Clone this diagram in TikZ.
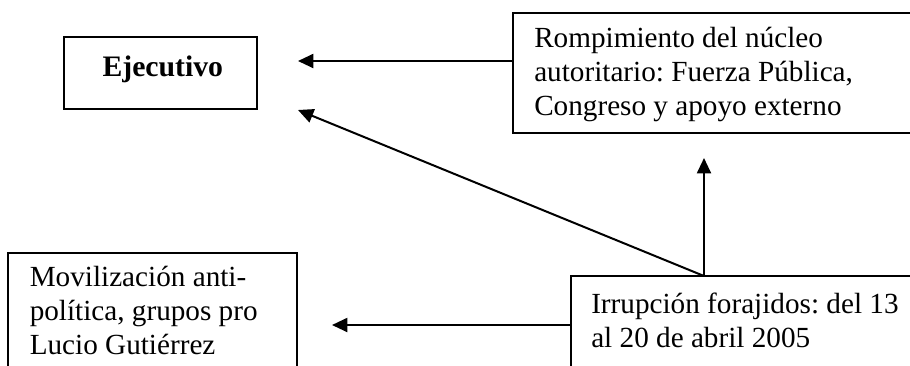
\documentclass[tikz,border=0pt]{standalone}
\usepackage{fontspec}
\setmainfont{Liberation Serif}
\newcommand\mybodyfont{\fontsize{21.9pt}{25.5pt}\selectfont\frenchspacing}
\usetikzlibrary{arrows.meta}
\begin{document}
\begin{tikzpicture}[x=0.75pt,y=-0.75pt,
  boxnode/.style={draw=black, line width=1.1pt, anchor=north west, inner sep=0pt, outer sep=0pt},
  conn/.style={line width=1.5pt, -{Triangle[length=11.5pt,width=10.5pt]}},
  bodytext/.style={anchor=base west, inner sep=0pt},
  headtext/.style={anchor=base, inner sep=0pt, font=\bfseries\fontsize{22.3pt}{26pt}\selectfont}
]
\useasboundingbox (0,0) rectangle (910,365);
\clip (0,0) rectangle (910,365);

% boxes
\node[boxnode, minimum width=144.75pt, minimum height=54pt] (ejec) at (64,37) {};
\node[boxnode, minimum width=335.25pt, minimum height=90pt] (romp) at (513,13) {};
\node[boxnode, minimum width=216.75pt, minimum height=125.25pt] (movil) at (8,253) {};
\node[boxnode, minimum width=291.75pt, minimum height=108pt] (irr) at (571,276) {};

% texts
\node[headtext] (eject) at (162.8,76.7) {Ejecutivo};
\node[bodytext] (rompt) at (534,47.7) {\parbox[t]{400pt}{\mybodyfont\raggedright Rompimiento del núcleo\\autoritario: Fuerza Pública,\\Congreso y apoyo externo}};
\node[bodytext] (movilt) at (29.5,286.7) {\parbox[t]{300pt}{\mybodyfont\raggedright Movilización anti-\\política, grupos pro\\Lucio Gutiérrez}};
\node[bodytext] (irrt) at (591,313.5) {\parbox[t]{400pt}{\mybodyfont\raggedright Irrupción forajidos: del 13\\al 20 de abril 2005}};

% connectors
\coordinate (tip1) at (298,61);
\coordinate (tip2) at (298,110);
\coordinate (tip3) at (704,158);
\coordinate (tip4) at (332,325);
\coordinate (apex) at (tip3 |- irr.north);
\draw[conn] (romp.west |- tip1) -- (tip1);
\draw[conn] (apex) -- (tip2);
\draw[conn] (apex) -- (tip3);
\draw[conn] (irr.west |- tip4) -- (tip4);
\end{tikzpicture}
\end{document}
